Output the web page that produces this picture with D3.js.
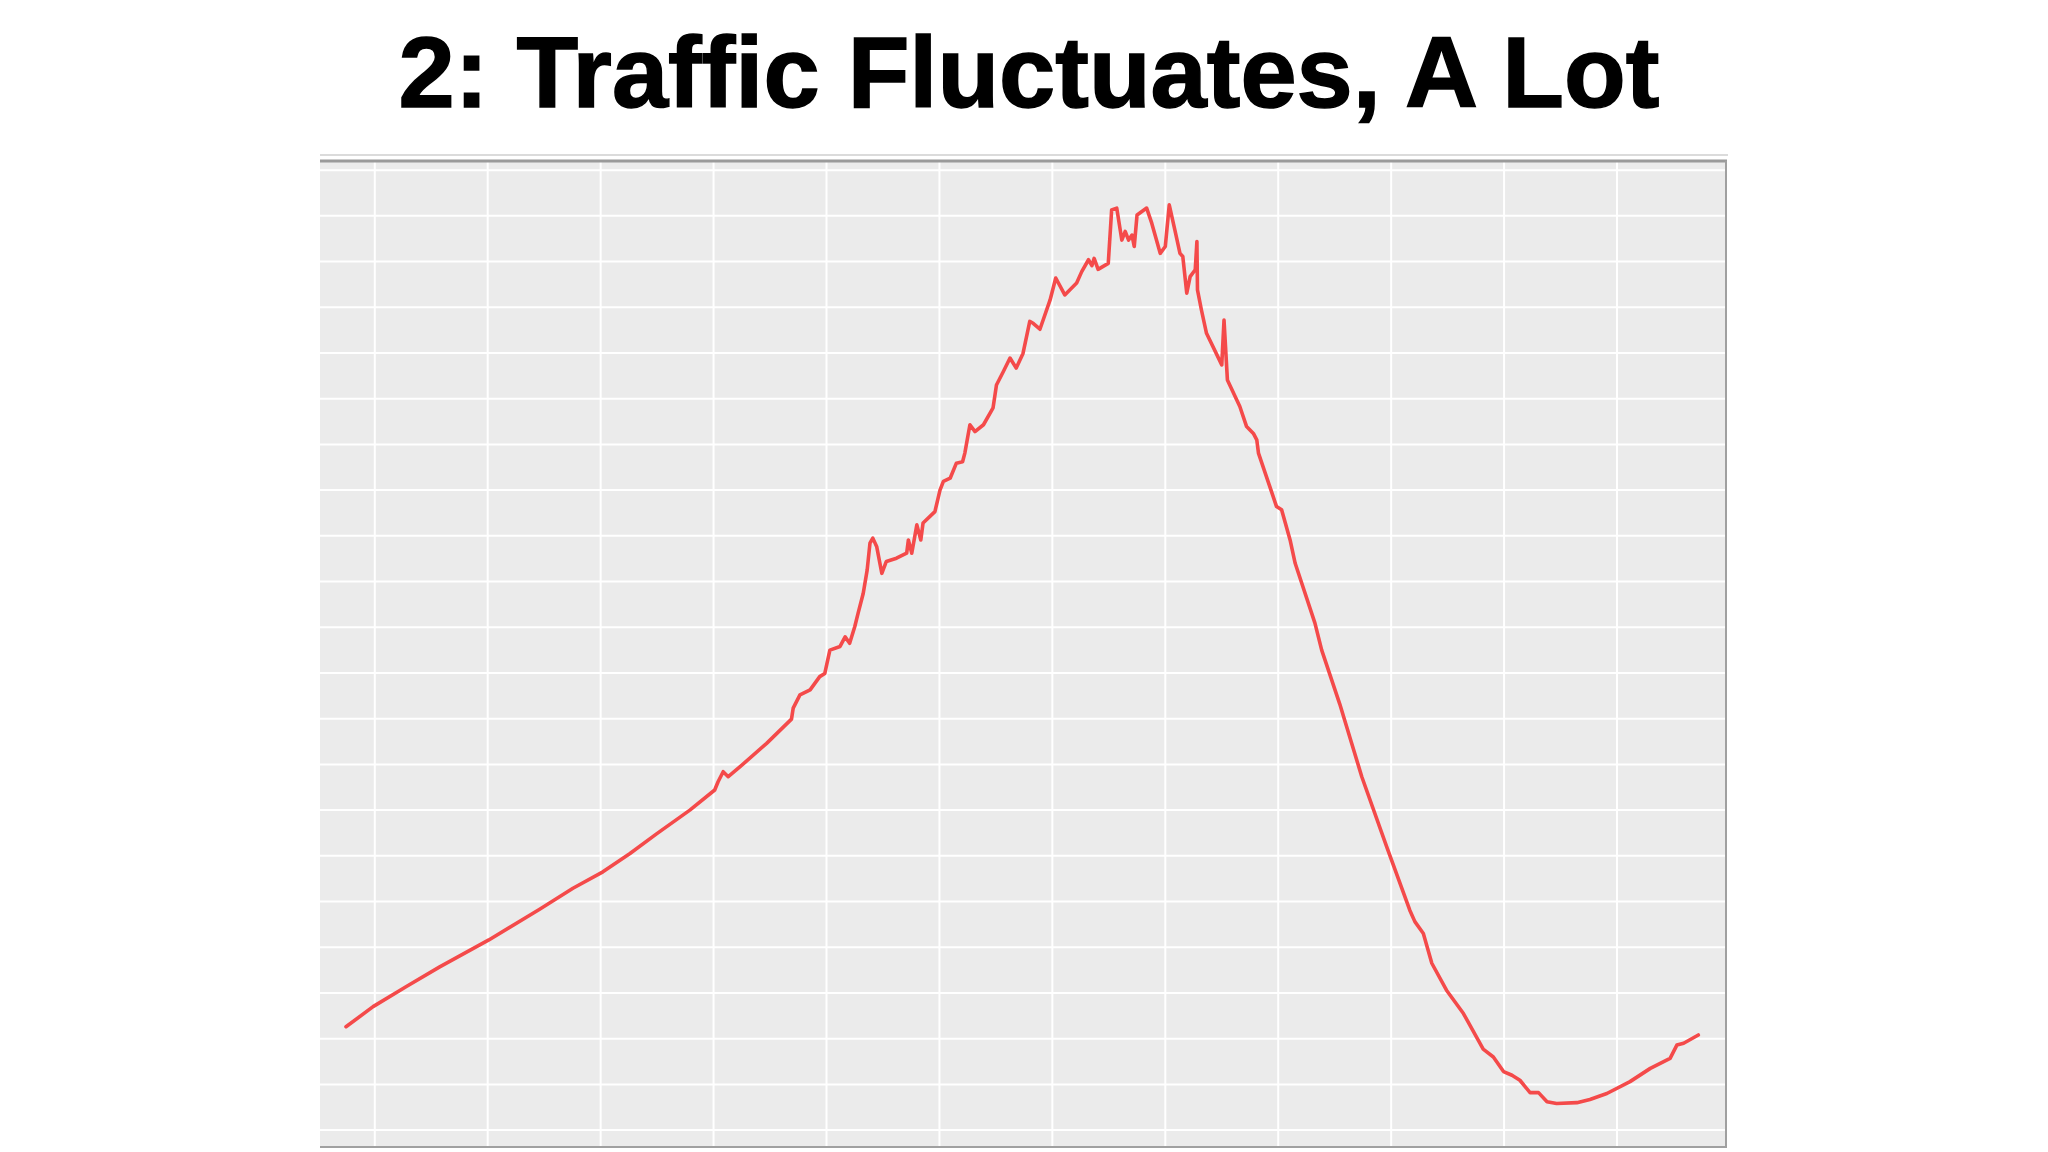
<!DOCTYPE html>
<html>
<head>
<meta charset="utf-8">
<script src="https://cdn.jsdelivr.net/npm/d3@7"></script>
<style>
  body { margin: 0; background: #fff; }
</style>
</head>
<body>
<script>
// hour of day and traffic (thousand requests)
var hours = [0.49, 0.97, 1.56, 2.15, 3.02, 3.92, 4.51, 5.04, 5.52, 5.99, 6.58, 7.02, 7.08, 7.17, 7.26, 7.47,
  7.94, 8.38, 8.41, 8.53, 8.71, 8.88, 8.97, 9.06, 9.24, 9.33, 9.41, 9.50, 9.56, 9.65, 9.72, 9.77, 9.82, 9.89,
  9.98, 10.06, 10.24, 10.42, 10.45, 10.51, 10.60, 10.67, 10.71, 10.92, 11.01, 11.07, 11.19, 11.30, 11.41, 11.45,
  11.54, 11.63, 11.78, 11.95, 12.01, 12.13, 12.25, 12.36, 12.48, 12.60, 12.66, 12.78, 12.96, 13.06, 13.22, 13.43,
  13.52, 13.64, 13.70, 13.74, 13.81, 13.99, 14.05, 14.14, 14.23, 14.29, 14.35, 14.41, 14.45, 14.50, 14.67, 14.76,
  14.91, 15.00, 15.07, 15.17, 15.26, 15.31, 15.38, 15.44, 15.53, 15.56, 15.57, 15.64, 15.73, 16.00, 16.04, 16.10,
  16.32, 16.44, 16.56, 16.62, 16.65, 16.97, 17.06, 17.21, 17.30, 17.65, 17.77, 18.09, 18.48, 18.92, 19.33, 19.42,
  19.57, 19.72, 19.98, 20.28, 20.63, 20.81, 20.99, 21.14, 21.28, 21.46, 21.61, 21.76, 21.93, 22.29, 22.52, 22.82,
  23.23, 23.59, 23.94, 24.06, 24.18, 24.44];
var traffic = [22.6, 27.0, 31.4, 35.7, 41.6, 48.3, 52.9, 56.5, 60.5, 64.8, 70.0, 74.4, 76.2, 78.4, 77.3, 79.5,
  84.6, 89.9, 92.3, 95.2, 96.3, 99.2, 99.9, 105.0, 105.8, 107.9, 106.5, 110.1, 113.1, 117.4, 122.5, 128.4, 129.5, 127.6,
  121.8, 124.4, 125.1, 126.2, 129.1, 126.2, 132.4, 129.1, 132.8, 135.3, 140.0, 141.9, 142.6, 145.9, 146.2, 148.1,
  154.3, 152.8, 154.3, 158.0, 163.0, 165.9, 168.9, 166.7, 169.9, 176.9, 176.5, 175.2, 181.6, 186.4, 182.7, 185.3,
  187.8, 190.4, 189.1, 190.7, 188.3, 189.6, 201.3, 201.7, 194.7, 196.6, 194.7, 195.8, 193.3, 200.2, 201.7, 198.4,
  191.8, 193.3, 202.4, 196.9, 191.8, 191.1, 183.1, 186.7, 188.2, 194.4, 183.8, 179.4, 174.3, 167.4, 177.2, 164.1,
  158.3, 153.9, 152.4, 151.0, 148.1, 136.4, 135.7, 129.1, 124.0, 110.9, 105.0, 93.2, 77.3, 62.0, 48.1, 45.6,
  43.0, 36.5, 30.6, 25.5, 17.7, 16.0, 12.8, 12.0, 10.9, 8.2, 8.2, 6.2, 5.8, 6.0, 6.7, 8.0,
  10.6, 13.5, 15.7, 18.6, 19.0, 20.8];
var xTicks = [1, 3, 5, 7, 9, 11, 13, 15, 17, 19, 21, 23];
var yTicks = d3.range(0, 220, 10);
var title = "2: Traffic Fluctuates, A Lot";

var W = 2048, H = 1152;
// panel edges (window.top is read-only, so no bare "top")
var panelL = 320, panelR = 1726, panelT = 161, panelB = 1147;

var svg = d3.select("body").append("svg")
    .attr("width", W)
    .attr("height", H);

var x = d3.scaleLinear().domain([0.03, 24.93]).range([panelL, panelR]);
var y = d3.scaleLinear().domain([-3.7, 212]).range([panelB, panelT]);

// title
svg.append("text")
    .attr("x", 1029)
    .attr("y", 107)
    .attr("text-anchor", "middle")
    .attr("font-family", "'Liberation Sans', Arial, Helvetica, sans-serif")
    .attr("font-weight", "bold")
    .attr("font-size", 101)
    .attr("fill", "#000")
    .attr("stroke", "#000")
    .attr("stroke-width", 1.5)
    .text(title);

// thin separator under the title
svg.append("line")
    .attr("x1", panelL).attr("x2", panelR + 2)
    .attr("y1", 155).attr("y2", 155)
    .attr("stroke", "#cfcfcf")
    .attr("stroke-width", 1.5);

// panel
svg.append("rect")
    .attr("x", panelL).attr("y", panelT)
    .attr("width", panelR - panelL).attr("height", panelB - panelT)
    .attr("fill", "#ebebeb");

var grid = svg.append("g");
grid.selectAll(".hg").data(yTicks).enter().append("line")
    .attr("x1", panelL).attr("x2", panelR)
    .attr("y1", function(d) { return y(d); })
    .attr("y2", function(d) { return y(d); })
    .attr("stroke", "#fff")
    .attr("stroke-width", 2);
grid.selectAll(".vg").data(xTicks).enter().append("line")
    .attr("y1", panelT).attr("y2", panelB)
    .attr("x1", function(d) { return x(d); })
    .attr("x2", function(d) { return x(d); })
    .attr("stroke", "#fff")
    .attr("stroke-width", 2);

// frame: top, right, bottom edges are darker
svg.append("line")
    .attr("x1", panelL).attr("x2", panelR + 1)
    .attr("y1", panelT).attr("y2", panelT)
    .attr("stroke", "#9a9a9a").attr("stroke-width", 3);
svg.append("line")
    .attr("x1", panelR).attr("x2", panelR)
    .attr("y1", panelT).attr("y2", panelB + 1)
    .attr("stroke", "#a0a0a0").attr("stroke-width", 2);
svg.append("line")
    .attr("x1", panelL).attr("x2", panelR + 1)
    .attr("y1", panelB).attr("y2", panelB)
    .attr("stroke", "#a0a0a0").attr("stroke-width", 2);

// traffic line
var line = d3.line()
    .x(function(d, i) { return x(hours[i]); })
    .y(function(d) { return y(d); });

svg.append("path")
    .datum(traffic)
    .attr("d", line)
    .attr("fill", "none")
    .attr("stroke", "#f44a4a")
    .attr("stroke-width", 3.6)
    .attr("stroke-linejoin", "round")
    .attr("stroke-linecap", "round");
</script>
</body>
</html>
